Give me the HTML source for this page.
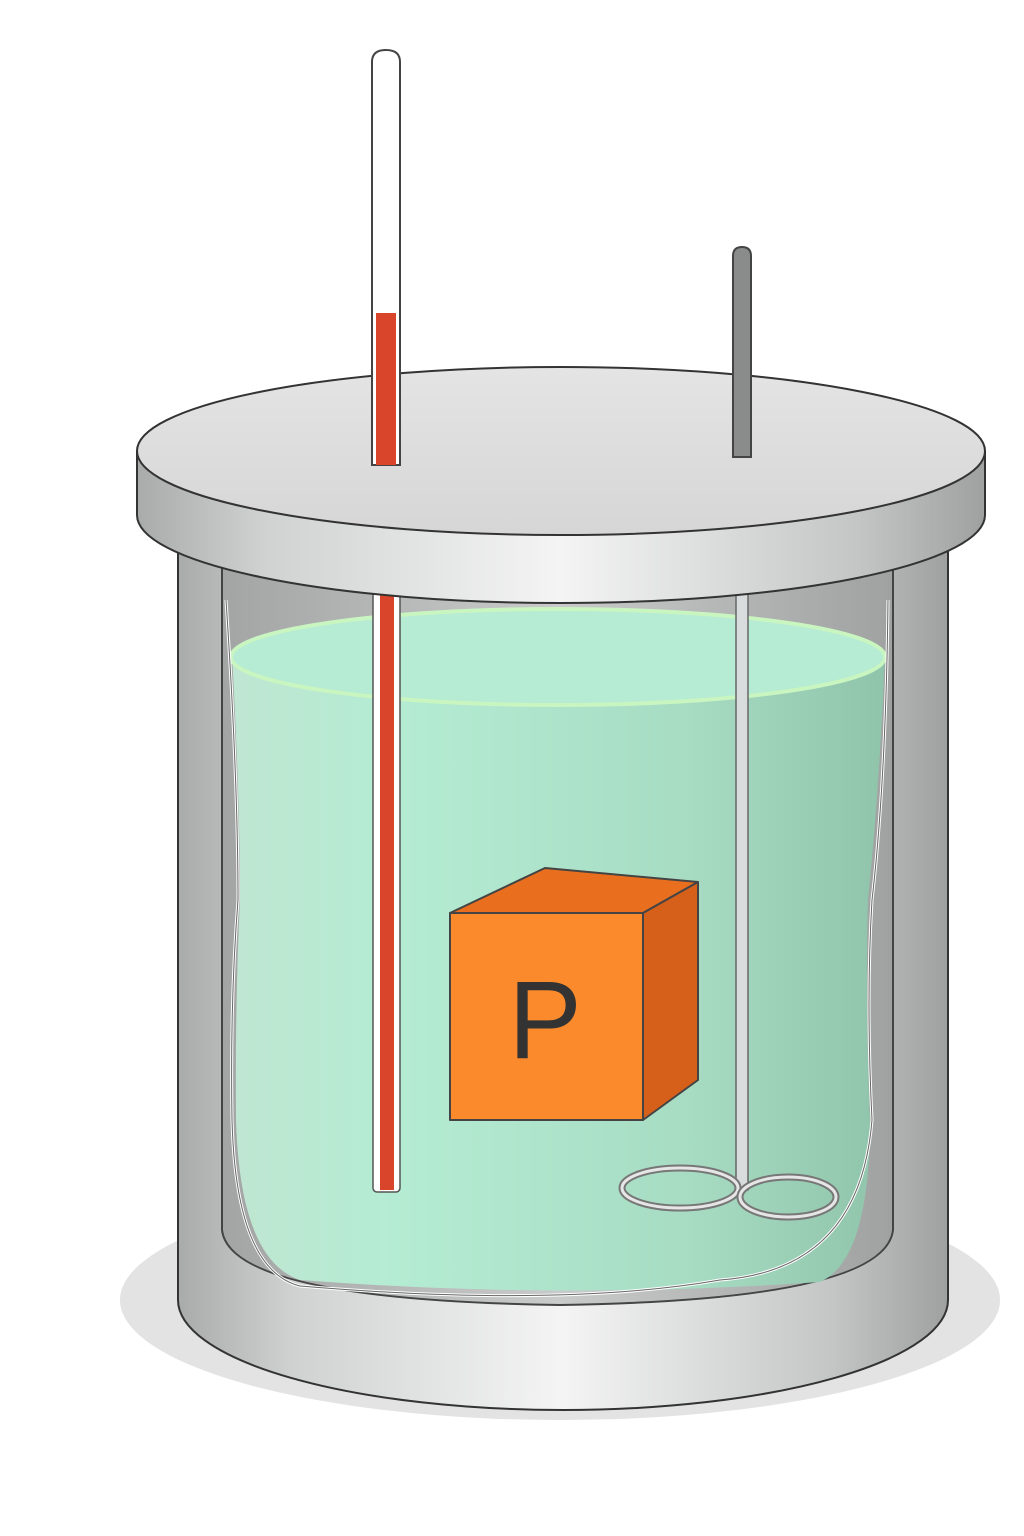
<!DOCTYPE html>
<html>
<head>
<meta charset="utf-8">
<style>
html,body{margin:0;padding:0;background:#fff;}
svg{display:block;}
</style>
</head>
<body>
<svg width="1024" height="1536" viewBox="0 0 1024 1536">
<defs>
<linearGradient id="metal" x1="0" x2="1" y1="0" y2="0">
<stop offset="0" stop-color="#a9abab"/>
<stop offset="0.15" stop-color="#d0d2d2"/>
<stop offset="0.5" stop-color="#f4f4f4"/>
<stop offset="0.85" stop-color="#c4c6c6"/>
<stop offset="1" stop-color="#9fa1a1"/>
</linearGradient>
<linearGradient id="inner" x1="0" x2="1">
<stop offset="0" stop-color="#a3a5a5"/>
<stop offset="0.5" stop-color="#c9caca"/>
<stop offset="1" stop-color="#a0a2a2"/>
</linearGradient>
<linearGradient id="liquid" x1="0" x2="1">
<stop offset="0" stop-color="#bfe6d2"/>
<stop offset="0.25" stop-color="#b4ecd3"/>
<stop offset="0.7" stop-color="#a7dcc3"/>
<stop offset="1" stop-color="#8fc4ab"/>
</linearGradient>
<linearGradient id="lidtop" x1="0" x2="0" y1="0" y2="1">
<stop offset="0" stop-color="#e4e4e4"/>
<stop offset="1" stop-color="#d6d6d6"/>
</linearGradient>
</defs>

<ellipse cx="560" cy="1300" rx="440" ry="120" fill="#e3e3e3"/>

<!-- outer body -->
<path d="M178 540 L178 1300 A385 110 0 0 0 948 1300 L948 540 Z" fill="url(#metal)" stroke="#333" stroke-width="2"/>
<!-- inner wall -->
<path d="M222 560 L222 1230 Q230 1300 560 1305 Q885 1300 893 1230 L893 560 Z" fill="url(#inner)" stroke="#444" stroke-width="2"/>
<!-- liquid -->
<path d="M232 655 Q240 800 240 900 Q235 1000 236 1120 Q240 1260 300 1280 Q560 1300 820 1282 Q870 1260 870 1120 Q865 1000 868 900 Q880 780 885 655 A327 48 0 0 1 232 655 Z" fill="url(#liquid)"/>
<ellipse cx="558" cy="657" rx="327" ry="48" fill="#b6ebd4" stroke="#c9f5c0" stroke-width="4"/>
<path d="M226 600 Q238 780 238 900 Q230 1000 232 1120 Q236 1270 300 1286 Q560 1308 720 1280 Q860 1270 872 1120 Q866 1000 872 900 Q886 780 888 600" fill="none" stroke="#fff" stroke-width="3"/>
<path d="M226 600 Q238 780 238 900 Q230 1000 232 1120 Q236 1270 300 1286 Q560 1308 720 1280 Q860 1270 872 1120 Q866 1000 872 900 Q886 780 888 600" fill="none" stroke="#666" stroke-width="1"/>

<!-- thermometer inside -->
<rect x="373" y="590" width="27" height="602" rx="4" fill="#fff" stroke="#555" stroke-width="1.5"/>
<rect x="380" y="590" width="14" height="600" fill="#d8452a"/>

<!-- stirrer inside -->
<rect x="736" y="590" width="12" height="600" fill="#d9dcdc" stroke="#666" stroke-width="1.5"/>
<g fill="none">
<ellipse cx="680" cy="1188" rx="58" ry="20" stroke="#777" stroke-width="7"/>
<ellipse cx="680" cy="1188" rx="58" ry="20" stroke="#e6e6e6" stroke-width="3"/>
<ellipse cx="788" cy="1197" rx="48" ry="20" stroke="#777" stroke-width="7"/>
<ellipse cx="788" cy="1197" rx="48" ry="20" stroke="#e6e6e6" stroke-width="3"/>
</g>

<!-- cube -->
<g stroke="#444" stroke-width="2" stroke-linejoin="round">
<polygon points="450,913 545,868 698,882 643,913" fill="#e96f1f"/>
<polygon points="643,913 698,882 698,1080 643,1120" fill="#d6601a"/>
<rect x="450" y="913" width="193" height="207" fill="#fb8a2c"/>
</g>
<text x="545" y="1058" text-anchor="middle" font-family="Liberation Sans, sans-serif" font-size="110" fill="#333">P</text>

<!-- lid -->
<path d="M137 451 L137 515 A424 88 0 0 0 985 515 L985 451 Z" fill="url(#metal)" stroke="#333" stroke-width="2"/>
<ellipse cx="561" cy="451" rx="424" ry="84" fill="url(#lidtop)" stroke="#333" stroke-width="2"/>

<!-- thermometer above lid -->
<path d="M372 465 L372 62 Q372 50 386 50 Q400 50 400 62 L400 465 Z" fill="#fff" stroke="#444" stroke-width="2"/>
<rect x="376" y="313" width="20" height="152" fill="#d8452a"/>

<!-- stirrer above lid -->
<path d="M733 457 L733 256 Q733 247 742 247 Q751 247 751 256 L751 457 Z" fill="#8a8c8c" stroke="#444" stroke-width="2"/>
</svg>
</body>
</html>
